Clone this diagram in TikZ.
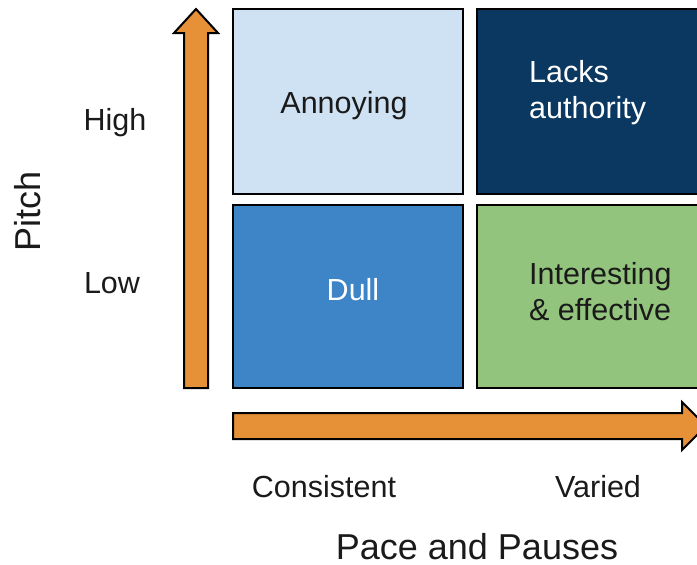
\documentclass[tikz,border=0pt]{standalone}
\usepackage{fontspec}
\setmainfont{Liberation Sans}
\definecolor{paleblue}{HTML}{CFE2F3}
\definecolor{navy}{HTML}{0B3861}
\definecolor{midblue}{HTML}{3D85C6}
\definecolor{sage}{HTML}{93C47D}
\definecolor{amber}{HTML}{E69138}
\definecolor{ink}{HTML}{1A1A1A}
\begin{document}
\begin{tikzpicture}[x=1pt,y=-1pt,
  cell/.style={draw=black,line width=2pt},
  axisarrow/.style={draw=black,fill=amber,line width=2pt,line join=miter},
  lbl/.style={inner sep=0pt,anchor=base,font=\fontsize{30.5}{36}\selectfont,text=ink},
  biglbl/.style={inner sep=0pt,anchor=base,font=\fontsize{36}{42}\selectfont,text=ink}]
\useasboundingbox (0,0) rectangle (697,565);
\begin{scope}
\clip (0,0) rectangle (697,565);
% quadrants
\filldraw[cell,fill=paleblue] (233,9) rectangle (463,194);
\filldraw[cell,fill=navy] (477,9) rectangle (720,194);
\filldraw[cell,fill=midblue] (233,205) rectangle (463,388);
\filldraw[cell,fill=sage] (477,205) rectangle (720,388);
% axis arrows
\filldraw[axisarrow] (184,388) -- (184,33) -- (174,33) -- (196,9) -- (218,33) -- (208,33) -- (208,388) -- cycle;
\filldraw[axisarrow] (233,413) -- (682,413) -- (682,402) -- (706,426) -- (682,450) -- (682,439) -- (233,439) -- cycle;
\end{scope}
% quadrant texts
\node[lbl] (annoying) at (344,113) {Annoying};
\node[lbl,text=white,anchor=base west] (lacks) at (529,82) {Lacks};
\node[lbl,text=white,anchor=base west] (authority) at (529,118) {authority};
\node[lbl,text=white] (dull) at (353,300) {Dull};
\node[lbl,anchor=base west] (interesting) at (529,284) {Interesting};
\node[lbl,anchor=base west] (effective) at (529,320) {\& effective};
% axis labels
\node[lbl] (high) at (115,130) {High};
\node[lbl] (low) at (112,293) {Low};
\node[biglbl,rotate=90] (pitch) at (40,211) {Pitch};
\node[lbl] (consistent) at (324,497) {Consistent};
\node[lbl] (varied) at (598,497) {Varied};
\node[biglbl] (pace) at (477,559) {Pace and Pauses};
\end{tikzpicture}
\end{document}
